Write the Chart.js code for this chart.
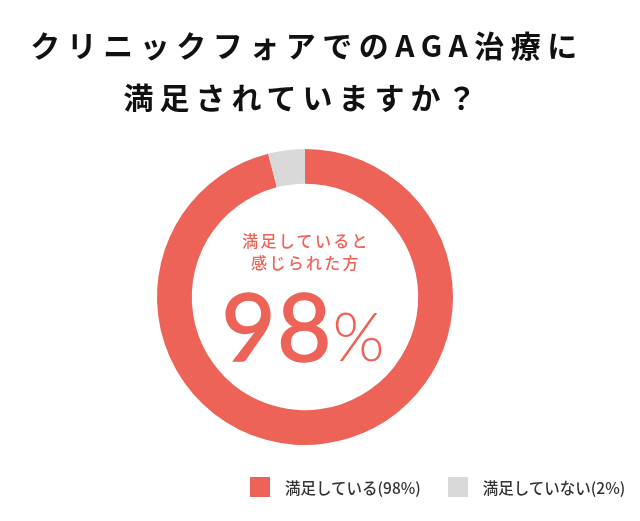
<!DOCTYPE html>
<html><head><meta charset="utf-8">
<script src="https://cdn.jsdelivr.net/npm/chart.js@4"></script>
<style>
html,body{margin:0;padding:0;background:#fff;}
#wrap{position:relative;width:640px;height:521px;overflow:hidden;}
canvas{position:absolute;left:0;top:0;}
.t{position:absolute;left:0;width:640px;text-align:center;white-space:nowrap;font-family:"Noto Sans CJK JP","Noto Sans",sans-serif;}
.title{font-size:30px;font-weight:700;line-height:30px;color:#111;}
.sub{font-size:16px;font-weight:500;letter-spacing:2.3px;line-height:20px;color:#EE6358;}
.big{font-family:Lato,"Noto Sans",sans-serif;color:#EE6358;line-height:100px;font-weight:400;}
#legend{position:absolute;top:476px;left:250px;width:max-content;white-space:nowrap;display:flex;align-items:center;font-family:"Noto Sans CJK JP","Noto Sans",sans-serif;font-size:15.5px;color:#333;font-weight:500;}
.li{display:flex;align-items:center;margin-right:27px;white-space:nowrap;}
.sw{width:20px;height:20px;margin-right:15px;flex:none;}
</style></head>
<body><div id="wrap">
<canvas id="c" width="640" height="521"></canvas>
<div class="t title" style="top:29px;letter-spacing:6.5px;transform:translateX(-13px)">クリニックフォアでのAGA治療に</div>
<div class="t title" style="top:81px;letter-spacing:6px;transform:translateX(-17px)">満足されていますか？</div>
<div class="t sub" style="top:230px;transform:translateX(-14px)">満足していると</div>
<div class="t sub" style="top:252px;transform:translateX(-14px)">感じられた方</div>
<div class="t big" style="top:275px;transform:translateX(-17px)"><span style="font-size:94px;letter-spacing:1px;-webkit-text-stroke:1.5px #EE6358">98</span><span style="font-size:67px;font-weight:300">%</span></div>
<div id="legend"></div>
</div>
<script>
const categories = ["満足している(98%)", "満足していない(2%)"];
const arcValues = [96, 4];
const colors = ["#EE6358", "#D9D9D9"];

const chart = new Chart(document.getElementById('c'), {
  type: 'doughnut',
  data: { labels: categories, datasets: [{ data: arcValues, backgroundColor: colors, borderWidth: 0, hoverOffset: 0 }] },
  options: {
    responsive: false,
    animation: false,
    cutout: '76.5%',
    layout: { padding: { left: 157, right: 187, top: 149, bottom: 76 } },
    plugins: { legend: { display: false }, tooltip: { enabled: false } }
  }
});

const lg = document.getElementById('legend');
categories.forEach((c, i) => {
  const d = document.createElement('div'); d.className = 'li';
  const s = document.createElement('div'); s.className = 'sw'; s.style.background = colors[i];
  const t = document.createElement('span'); t.textContent = c;
  d.appendChild(s); d.appendChild(t); lg.appendChild(d);
});
</script>
</body></html>
